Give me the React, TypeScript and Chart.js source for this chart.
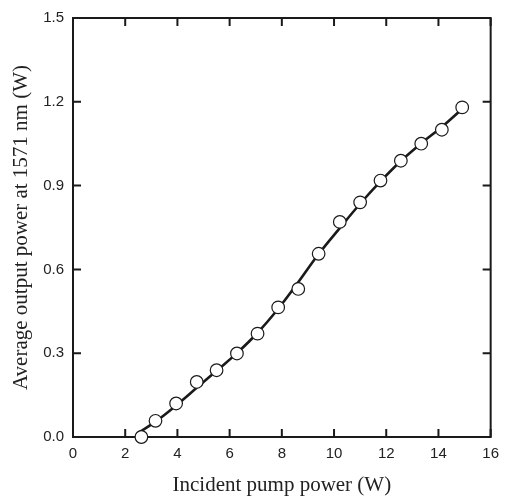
import { useEffect, useRef } from "react";
import { Chart, registerables } from "chart.js";

Chart.register(...registerables);

// Measured data (circles)
const pumpPower = [2.62, 3.16, 3.95, 4.74, 5.5, 6.28, 7.07, 7.86, 8.63, 9.41, 10.22, 11.0, 11.78, 12.56, 13.34, 14.13, 14.91];
const outputPower = [0.0, 0.058, 0.12, 0.197, 0.239, 0.299, 0.37, 0.464, 0.53, 0.656, 0.77, 0.84, 0.918, 0.989, 1.05, 1.1, 1.18];

// Fitted curve (solid line)
const fitPower = [2.5, 3.16, 3.95, 4.74, 5.5, 6.3, 7.09, 7.86, 8.62, 9.41, 10.22, 11.0, 11.78, 12.56, 13.35, 14.13, 14.95];
const fitOutput = [0.015, 0.055, 0.113, 0.176, 0.237, 0.302, 0.375, 0.459, 0.553, 0.655, 0.748, 0.835, 0.915, 0.988, 1.052, 1.11, 1.178];

// Tick values
const xTicks = [0, 2, 4, 6, 8, 10, 12, 14, 16];
const yTicks = [0, 0.3, 0.6, 0.9, 1.2, 1.5];

const xTitle = "Incident pump power (W)";
const yTitle = "Average output power at 1571 nm (W)";

const framePlugin = {
  id: "frameTicks",
  beforeDatasetsDraw(chart: any) {
    const { ctx, chartArea, scales } = chart;
    const { left, right, top, bottom } = chartArea;
    const len = 8;
    ctx.save();
    ctx.strokeStyle = "#1a1a1a";
    ctx.lineWidth = 2;
    ctx.beginPath();
    ctx.rect(left, top, right - left, bottom - top);
    ctx.stroke();
    ctx.beginPath();
    xTicks.forEach((v) => {
      const x = scales.x.getPixelForValue(v);
      ctx.moveTo(x, bottom);
      ctx.lineTo(x, bottom - len);
      ctx.moveTo(x, top);
      ctx.lineTo(x, top + len);
    });
    yTicks.forEach((v) => {
      const y = scales.y.getPixelForValue(v);
      ctx.moveTo(left, y);
      ctx.lineTo(left + len, y);
      ctx.moveTo(right, y);
      ctx.lineTo(right - len, y);
    });
    ctx.stroke();
    ctx.restore();
  },
};

export default function App() {
  const ref = useRef<HTMLCanvasElement>(null);

  useEffect(() => {
    if (!ref.current) return;
    const tickFont = { family: "'Liberation Sans', Arial, sans-serif", size: 15 };
    const titleFont = { family: "'Liberation Serif', 'Times New Roman', serif", size: 21 };
    const chart = new Chart(ref.current, {
      type: "scatter",
      data: {
        datasets: [
          {
            type: "line",
            label: "fit",
            data: fitPower.map((x, i) => ({ x, y: fitOutput[i] })),
            borderColor: "#1a1a1a",
            borderWidth: 2.6,
            pointRadius: 0,
            fill: false,
            tension: 0.4,
            clip: false,
            order: 2,
          } as any,
          {
            type: "scatter",
            label: "data",
            data: pumpPower.map((x, i) => ({ x, y: outputPower[i] })),
            backgroundColor: "#ffffff",
            borderColor: "#1a1a1a",
            borderWidth: 1.2,
            pointRadius: 6.3,
            clip: false,
            order: 1,
          } as any,
        ],
      },
      options: {
        responsive: false,
        animation: false,
        layout: { padding: { left: 0, top: 16, right: 14, bottom: 0 } },
        plugins: { legend: { display: false }, tooltip: { enabled: false } },
        scales: {
          x: {
            type: "linear",
            min: 0,
            max: 16,
            afterFit: (s: any) => {
              s.height = 61;
            },
            afterBuildTicks: (s: any) => {
              s.ticks = xTicks.map((v) => ({ value: v }));
            },
            grid: { display: false, drawTicks: false },
            border: { display: false },
            ticks: { font: tickFont, color: "#222", padding: 8, maxRotation: 0 },
            title: { display: true, text: xTitle, font: titleFont, color: "#222", padding: { top: 0, bottom: 0 } },
          },
          y: {
            type: "linear",
            min: 0,
            max: 1.5,
            afterFit: (s: any) => {
              s.width = 73;
            },
            afterBuildTicks: (s: any) => {
              s.ticks = yTicks.map((v) => ({ value: v }));
            },
            grid: { display: false, drawTicks: false },
            border: { display: false },
            ticks: {
              font: tickFont,
              color: "#222",
              padding: 9,
              callback: (v: any) => Number(v).toFixed(1),
            },
            title: { display: true, text: yTitle, font: titleFont, color: "#222", padding: { top: 9, bottom: 0 } },
          },
        },
      },
      plugins: [framePlugin],
    });
    return () => chart.destroy();
  }, []);

  return (
    <div style={{ position: "absolute", left: 0, top: 0, width: 507, height: 498, background: "#fff" }}>
      <canvas ref={ref} width={507} height={498} style={{ display: "block" }} />
    </div>
  );
}
